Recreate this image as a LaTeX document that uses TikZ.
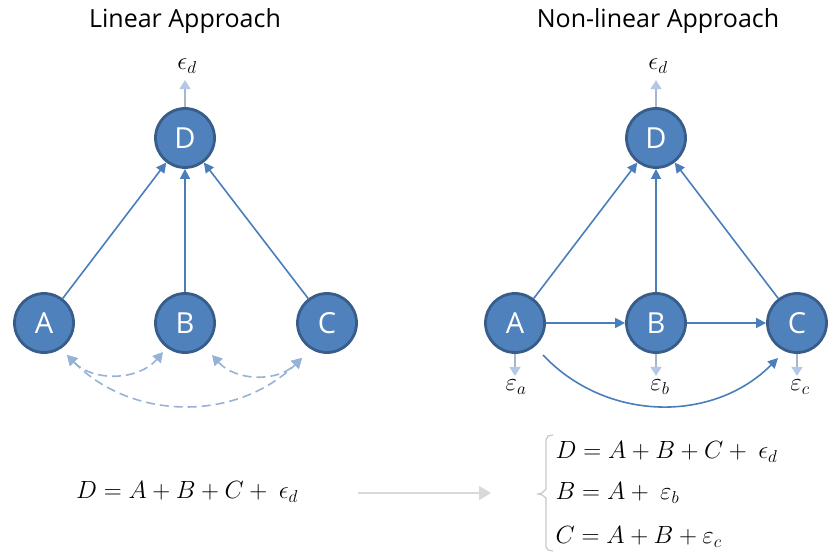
\documentclass[tikz,border=0pt]{standalone}
\usepackage{fontspec}
\setmainfont{Open Sans}
\usetikzlibrary{arrows.meta}
\definecolor{nodefill}{HTML}{4F81BD}
\definecolor{nodeedge}{HTML}{385D8A}
\definecolor{edgeblue}{HTML}{4A7EBB}
\definecolor{lightb}{HTML}{B4C7E7}
\definecolor{errstem}{HTML}{A6B6CC}
\definecolor{dashb}{HTML}{95B3D7}
\definecolor{grayarr}{HTML}{D9D9D9}
\definecolor{brk}{HTML}{C8C8C8}
\tikzset{
  var/.style={circle, fill=nodefill, draw=nodeedge, line width=2.8pt, minimum size=59pt, inner sep=0pt, text=white, font=\fontsize{29}{32}\selectfont},
  link/.style={draw=edgeblue, line width=1.6pt, -{Triangle[length=10pt,width=10pt]}},
  errarr/.style={draw=errstem, line width=1.4pt, -{Triangle[length=9pt,width=11pt,color=lightb]}},
  dlink/.style={draw=dashb, line width=1.6pt, dash pattern=on 9pt off 5pt, {Triangle[length=10pt,width=11pt]}-{Triangle[length=10pt,width=11pt]}},
  ttl/.style={font=\fontsize{25}{29}\selectfont},
  eq/.style={font=\fontsize{23}{28}\selectfont},
  elab/.style={font=\fontsize{23}{27}\selectfont, inner sep=0pt}
}
\begin{document}
\begin{tikzpicture}[x=1pt,y=-1pt]
\useasboundingbox (0,0) rectangle (830,553);
% titles
\node[ttl] (t1) at (185,21) {Linear Approach};
\node[ttl] (t2) at (658,21) {Non-linear Approach};
% left graph
\node[var] (LD) at (185,138) {D};
\node[var] (LA) at (44,323) {A};
\node[var] (LB) at (185,323) {B};
\node[var] (LC) at (327,323) {C};
\node[elab] (Led) at (187,66) {$\epsilon_d$};
\draw[link] (LA) -- (LD);
\draw[link] (LB) -- (LD);
\draw[link] (LC) -- (LD);
\draw[errarr] (LD.north) -- ([yshift=27pt]LD.north);
\coordinate (LAo) at ([shift={(23,32)}]LA.center);
\coordinate (LBi) at ([shift={(-22,29)}]LB.center);
\coordinate (LBo) at ([shift={(27,32)}]LB.center);
\coordinate (LCi) at ([shift={(-25,35)}]LC.center);
\draw[dlink] (LAo) to[bend right=48] (LBi);
\draw[dlink] (LBo) to[bend right=46] (LCi);
\draw[dlink] (LAo) to[bend right=45] (LCi);
% right graph
\node[var] (RD) at (656,138) {D};
\node[var] (RA) at (515,323) {A};
\node[var] (RB) at (656,323) {B};
\node[var] (RC) at (797,323) {C};
\node[elab] (Red) at (658,66) {$\epsilon_d$};
\node[elab] (Rea) at (516,387) {$\varepsilon_a$};
\node[elab] (Reb) at (660,387) {$\varepsilon_b$};
\node[elab] (Rec) at (800,387) {$\varepsilon_c$};
\draw[link] (RA) -- (RD);
\draw[link] (RB) -- (RD);
\draw[link] (RC) -- (RD);
\draw[link] (RA) -- (RB);
\draw[link] (RB) -- (RC);
\coordinate (RAo) at ([shift={(28,32)}]RA.center);
\coordinate (RCi) at ([shift={(-19,35)}]RC.center);
\draw[link] (RAo) to[bend right=46] (RCi);
\draw[errarr] (RD.north) -- ([yshift=27pt]RD.north);
\draw[errarr] (RA.south) -- ([yshift=-22pt]RA.south);
\draw[errarr] (RB.south) -- ([yshift=-22pt]RB.south);
\draw[errarr] (RC.south) -- ([yshift=-22pt]RC.south);
% equations
\node[eq] (eqL) at (187,492) {$D = A + B + C + \ \epsilon_d$};
\coordinate (g1) at (358,493);
\coordinate (g2) at (491,493);
\draw[draw=grayarr, line width=1.6pt, -{Triangle[length=12pt,width=14pt]}] (g1) -- (g2);
\node[eq, anchor=west] (eq1) at (552,452) {$D = A + B + C + \ \epsilon_d$};
\node[eq, anchor=west] (eq2) at (552,493) {$B = A + \ \varepsilon_b$};
\node[eq, anchor=west] (eq3) at (552,537) {$C = A + B + \varepsilon_c$};
\draw[brk, line width=1.2pt] (553,435) -- (548,436) -- (546,440) -- (546,489) -- (542,493) -- (538,494) -- (542,495) -- (546,498) -- (546,547) -- (548,550) -- (553,551);
\end{tikzpicture}
\end{document}
